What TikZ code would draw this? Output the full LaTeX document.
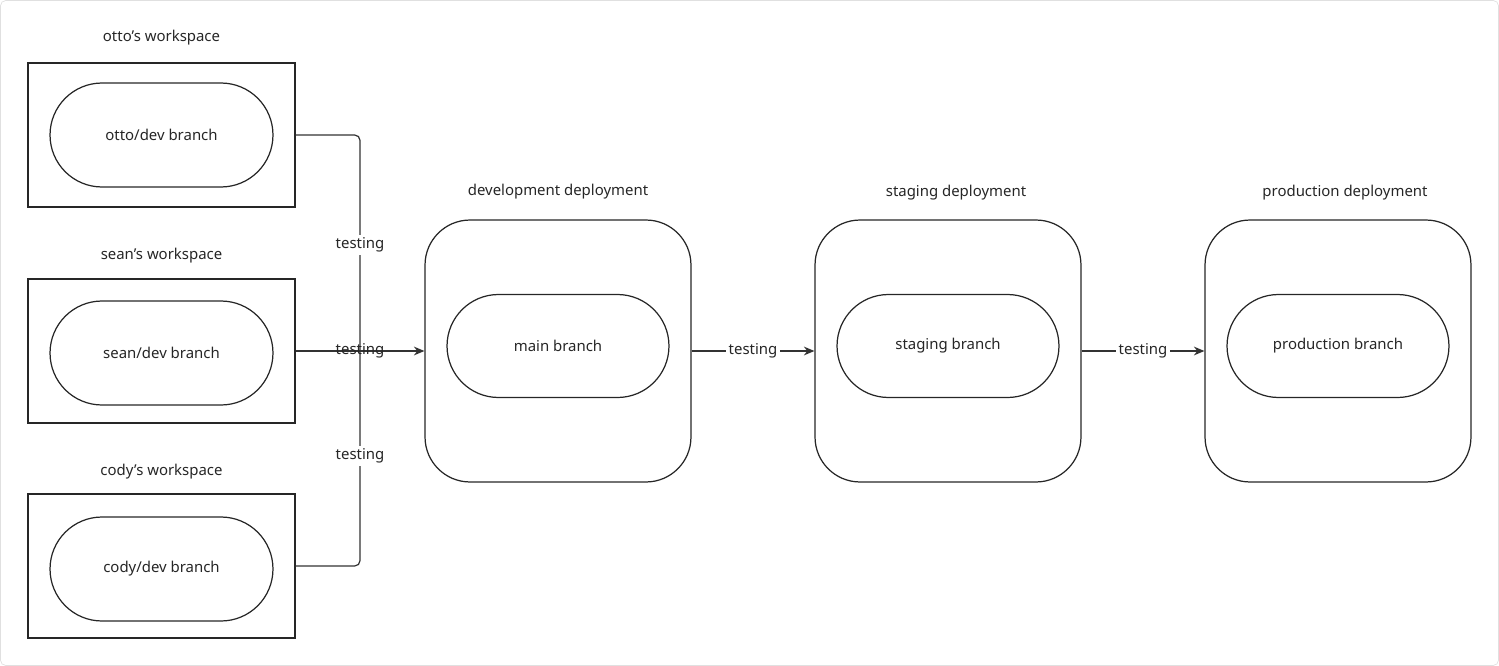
\documentclass[tikz,border=0pt]{standalone}
\usepackage{fontspec}
\setmainfont{Noto Sans}
\usetikzlibrary{arrows.meta}
\begin{document}
\begin{tikzpicture}[x=0.02cm,y=-0.02cm,
  every node/.style={font=\fontsize{8.5pt}{10pt}\selectfont, text=black!85},
  ws/.style={draw=black!85, line width=0.7pt, minimum width=5.34cm, minimum height=2.88cm},
  wpill/.style={draw=black!85, line width=0.7pt, rounded corners=1.04cm, minimum width=4.46cm, minimum height=2.08cm},
  dep/.style={draw=black!85, line width=0.7pt, rounded corners=0.9cm, minimum width=5.32cm, minimum height=5.24cm},
  dpill/.style={draw=black!85, line width=0.7pt, rounded corners=1.03cm, minimum width=4.44cm, minimum height=2.06cm},
  conn/.style={draw=black!80, line width=0.7pt, rounded corners=3pt},
  arr/.style={conn, -{Stealth[length=6pt,width=5pt]}},
  lbl/.style={fill=white, inner sep=1.5pt}]
\useasboundingbox (0,0) rectangle (1499,666);
\draw[black!12, rounded corners=3pt] (0.5,0.5) rectangle (1498.5,665.5);
% workspaces
\node[ws] (ow) at (161.5,135) {};
\node[ws] (sw) at (161.5,351) {};
\node[ws] (cw) at (161.5,566) {};
\node[wpill] (ob) at (161.5,135) {otto/dev branch};
\node[wpill] (sb) at (161.5,353) {sean/dev branch};
\node[wpill] (cb) at (161.5,569) {cody/dev branch};
\node (owl) at (161.5,38) {otto's workspace};
\node (swl) at (161.5,256) {sean's workspace};
\node (cwl) at (161.5,472) {cody's workspace};
% deployments
\node[dep] (dd) at (558,351) {};
\node[dep] (sd) at (948,351) {};
\node[dep] (pd) at (1338,351) {};
\node[dpill] (mb) at (558,346) {main branch};
\node[dpill] (stb) at (948,346) {staging branch};
\node[dpill] (pb) at (1338,346) {production branch};
\node (ddl) at (558,192) {development deployment};
\node (sdl) at (956,193) {staging deployment};
\node (pdl) at (1345,193) {production deployment};
% connectors
\coordinate (j) at (360,351);
\draw[conn] (ow.east |- 0,135) -- (360,135) -- (j);
\draw[conn] (cw.east |- 0,566) -- (360,566) -- (j);
\draw[arr] (sw.east) -- (dd.west);
\node[lbl] (t1) at (360,245) {testing};
\node[inner sep=1pt] (t2) at (360,351) {testing};
\node[lbl] (t3) at (360,456) {testing};
\draw[arr] (dd.east) -- node[lbl] (t4) {testing} (sd.west);
\draw[arr] (sd.east) -- node[lbl] (t5) {testing} (pd.west);
\end{tikzpicture}
\end{document}
